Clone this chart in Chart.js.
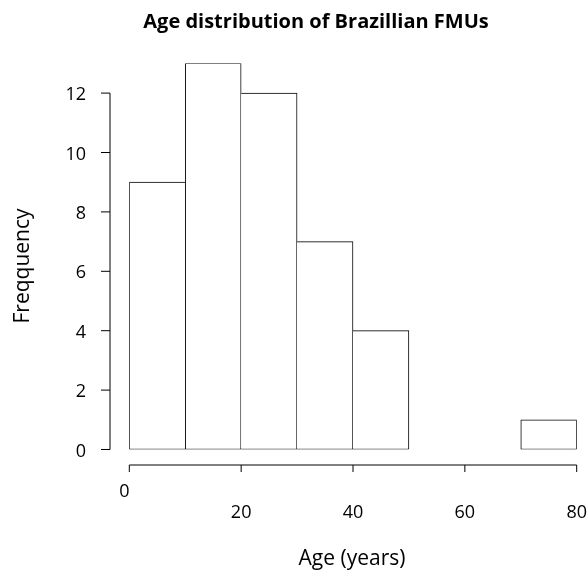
<!DOCTYPE html>
<html>
<head>
<meta charset="utf-8">
<script src="https://cdn.jsdelivr.net/npm/chart.js@4.4.1/dist/chart.umd.min.js"></script>
<style>
  html, body { margin: 0; padding: 0; background: #fff; }
  canvas { display: block; }
</style>
</head>
<body>
<canvas id="ageHist" width="587" height="574"></canvas>
<script>
// histogram data: bin edges in years and the count in each bin
const binEdges = [0, 10, 20, 30, 40, 50, 60, 70, 80];
const counts = [9, 13, 12, 7, 4, 0, 0, 1];

// axis ticks
const xTicks = [0, 20, 40, 60, 80];
const xTickLabels = ['0', '20', '40', '60', '80'];
const yTicks = [0, 2, 4, 6, 8, 10, 12];
const yTickLabels = ['0', '2', '4', '6', '8', '10', '12'];

const chartTitle = 'Age distribution of Brazillian FMUs';
const xTitle = 'Age (years)';
const yTitle = 'Freqquency';

const FONT = "'Open Sans', 'Noto Sans', sans-serif";

// bar centres sit half way between the edges
const bins = counts.map((c, i) => ({x: (binEdges[i] + binEdges[i + 1]) / 2, y: c}));

//------------------------------------------

// base-R style axes: detached from the bars, drawn after the chart
const rAxes = {
  id: 'rAxes',
  afterDraw(chart) {
    const {ctx, scales: {x, y}} = chart;
    ctx.save();
    ctx.strokeStyle = '#000';
    ctx.lineWidth = 1;
    ctx.fillStyle = '#000';

    // y axis
    const ax = 110;
    ctx.beginPath();
    ctx.moveTo(ax, y.getPixelForValue(yTicks[0]));
    ctx.lineTo(ax, y.getPixelForValue(yTicks[yTicks.length - 1]));
    yTicks.forEach(v => {
      const py = y.getPixelForValue(v);
      ctx.moveTo(ax, py);
      ctx.lineTo(ax - 9, py);
    });
    ctx.stroke();

    ctx.font = '18px ' + FONT;
    ctx.textAlign = 'right';
    ctx.textBaseline = 'middle';
    yTicks.forEach((v, i) => ctx.fillText(yTickLabels[i], 86, y.getPixelForValue(v) + 2));

    // x axis
    const ay = 465;
    ctx.beginPath();
    ctx.moveTo(x.getPixelForValue(xTicks[0]), ay);
    ctx.lineTo(x.getPixelForValue(xTicks[xTicks.length - 1]), ay);
    xTicks.forEach(v => {
      const px = x.getPixelForValue(v);
      ctx.moveTo(px, ay);
      ctx.lineTo(px, ay + 7);
    });
    ctx.stroke();

    ctx.textAlign = 'center';
    xTicks.forEach((v, i) => {
      const px = x.getPixelForValue(v);
      // first label is raised onto its own line
      if (i === 0) ctx.fillText(xTickLabels[i], px - 5, 492);
      else ctx.fillText(xTickLabels[i], px, 513);
    });

    // axis titles
    ctx.font = '21px ' + FONT;
    ctx.fillText(xTitle, 352, 559);
    ctx.save();
    ctx.translate(23, 266);
    ctx.rotate(-Math.PI / 2);
    ctx.fillText(yTitle, 0, 0);
    ctx.restore();

    // main title
    ctx.font = 'bold 20px ' + FONT;
    ctx.fillText(chartTitle, 316, 22);
    ctx.restore();
  }
};

//------------------------------------------

const config = {
  type: 'bar',
  data: {
    datasets: [{
      label: 'Frequency',
      data: bins,
      backgroundColor: '#fff',
      borderColor: '#000',
      borderSkipped: false,
      // a shared edge is drawn once, by the taller of the two bars
      borderWidth: (c) => {
        const i = c.dataIndex;
        const v = counts[i];
        if (!v) return 0;
        const prev = i > 0 ? counts[i - 1] : 0;
        const next = i < counts.length - 1 ? counts[i + 1] : 0;
        return {top: 1, bottom: 1, left: v >= prev ? 1 : 0, right: v > next ? 1 : 0};
      },
      barPercentage: 1,
      categoryPercentage: 1
    }]
  },
  options: {
    responsive: false,
    animation: false,
    devicePixelRatio: 1,
    layout: {padding: {left: 129.3, right: 10.3, top: 63.4, bottom: 124.5}},
    scales: {
      x: {type: 'linear', min: 0, max: 80, offset: false, display: false, ticks: {stepSize: 20}},
      y: {type: 'linear', min: 0, max: 13, display: false}
    },
    plugins: {
      legend: {display: false},
      tooltip: {enabled: false}
    }
  },
  plugins: [rAxes]
};

const ageHist = new Chart(document.getElementById('ageHist'), config);
</script>
</body>
</html>
